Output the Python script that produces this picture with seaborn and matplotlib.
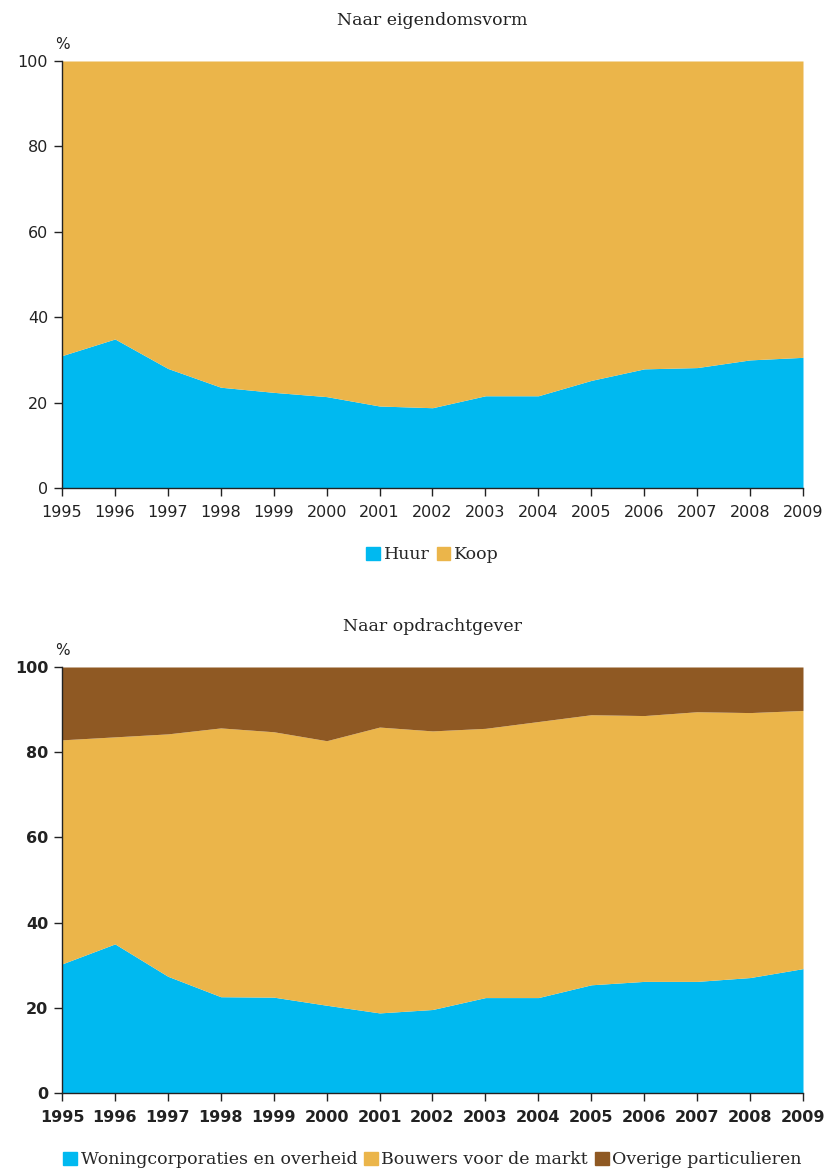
import matplotlib
matplotlib.use("Agg")
import matplotlib.pyplot as plt
from matplotlib.patches import Patch
import numpy as np
import pandas as pd
import seaborn as sns

YEARS = list(range(1995, 2010))

# Naar eigendomsvorm (%)
HUUR = [31.0, 34.9, 28.0, 23.6, 22.4, 21.4, 19.2, 18.8, 21.6, 21.6, 25.2, 27.9, 28.2, 30.0, 30.6]
KOOP = [100 - v for v in HUUR]

# Naar opdrachtgever (%)
WONINGCORP = [30.3, 35.0, 27.4, 22.6, 22.5, 20.6, 18.8, 19.6, 22.4, 22.4, 25.4, 26.2, 26.2, 27.1, 29.2]
CUM_BOUWERS = [82.9, 83.6, 84.3, 85.7, 84.8, 82.7, 85.9, 85.0, 85.6, 87.2, 88.8, 88.6, 89.5, 89.3, 89.8]
BOUWERS = [c - w for c, w in zip(CUM_BOUWERS, WONINGCORP)]
OVERIGE = [100 - c for c in CUM_BOUWERS]

BLUE = "#00B9F0"
GOLD = "#EBB54A"
BROWN = "#8F5923"

sns.set_theme(style="white")
plt.rcParams["font.family"] = ["DejaVu Sans"]

SERIF = "DejaVu Serif"


def style_axes(ax, bold):
    ax.set_xlim(YEARS[0], YEARS[-1])
    ax.set_ylim(0, 100)
    ax.set_yticks(range(0, 101, 20))
    ax.set_xticks(YEARS)
    weight = "bold" if bold else "normal"
    ax.set_xticklabels([str(y) for y in YEARS], fontsize=11.5, fontweight=weight, color="#222222")
    ax.set_yticklabels([str(v) for v in range(0, 101, 20)], fontsize=11.5, fontweight=weight, color="#222222")
    for s in ["top", "right"]:
        ax.spines[s].set_visible(False)
    for s in ["left", "bottom"]:
        ax.spines[s].set_color("#222222")
        ax.spines[s].set_linewidth(1.0)
    ax.tick_params(axis="both", direction="out", length=6, width=1, color="#222222",
                   bottom=True, left=True, pad=4)
    ax.tick_params(axis="x", pad=6)
    ax.set_xlabel("")
    ax.set_ylabel("")
    ax.text(-0.0, 1.02, "%", transform=ax.transAxes, ha="center", va="bottom",
            fontsize=11, color="#222222")


fig = plt.figure(figsize=(8.24, 11.71), dpi=100)
W, H = 824, 1171
ax1 = fig.add_axes([62 / W, 1 - 488 / H, (803 - 62) / W, (488 - 61) / H])
ax2 = fig.add_axes([62 / W, 1 - 1093 / H, (803 - 62) / W, (1093 - 667) / H])

df1 = pd.DataFrame({"jaar": YEARS, "Huur": HUUR, "Koop": KOOP})
ax1.stackplot(df1["jaar"], df1["Huur"], df1["Koop"], colors=[BLUE, GOLD], linewidth=0)
style_axes(ax1, bold=False)
ax1.set_title("Naar eigendomsvorm", fontsize=12.5, family=SERIF, color="#222222", pad=26)
ax1.legend(handles=[Patch(color=BLUE, label="Huur"), Patch(color=GOLD, label="Koop")],
           loc="upper center", bbox_to_anchor=(0.5, -0.1), ncol=2, frameon=False,
           handlelength=0.8, handleheight=0.8, handletextpad=0.2, columnspacing=0.4,
           prop={"family": SERIF, "size": 12.5})

df2 = pd.DataFrame({"jaar": YEARS, "Woning": WONINGCORP, "Bouwers": BOUWERS, "Overige": OVERIGE})
ax2.stackplot(df2["jaar"], df2["Woning"], df2["Bouwers"], df2["Overige"],
              colors=[BLUE, GOLD, BROWN], linewidth=0)
style_axes(ax2, bold=True)
ax2.set_title("Naar opdrachtgever", fontsize=12.5, family=SERIF, color="#222222", pad=26)
ax2.legend(handles=[Patch(color=BLUE, label="Woningcorporaties en overheid"),
                    Patch(color=GOLD, label="Bouwers voor de markt"),
                    Patch(color=BROWN, label="Overige particulieren")],
           loc="upper center", bbox_to_anchor=(0.5, -0.1), ncol=3, frameon=False,
           handlelength=0.8, handleheight=0.8, handletextpad=0.2, columnspacing=0.4,
           prop={"family": SERIF, "size": 12.5})

fig.savefig("out.png", dpi=100)
